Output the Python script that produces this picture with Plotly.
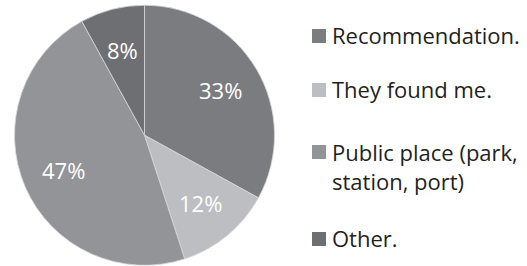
import math
import plotly.graph_objects as go

labels = ["Recommendation.", "They found me.", "Public place (park,<br>station, port)", "Other."]
values = [33, 12, 47, 8]
colors = ["#7b7c80", "#bdbec1", "#939497", "#6e6f73"]

W, H = 527, 266

# pie geometry (pixels)
PX0, PX1 = 14.5, 274.5
PY0, PY1 = 5.0, 265.5
CX, CY = (PX0 + PX1) / 2, (PY0 + PY1) / 2
R = (PX1 - PX0) / 2
LABEL_FRAC = 0.68

fig = go.Figure()
fig.add_trace(go.Pie(
    labels=labels,
    values=values,
    sort=False,
    direction="clockwise",
    rotation=0,
    marker=dict(colors=colors, line=dict(color="#d8d8da", width=0.8)),
    textinfo="none",
    domain=dict(x=[PX0 / W, PX1 / W], y=[1 - PY1 / H, 1 - PY0 / H]),
    showlegend=False,
    hoverinfo="skip",
))

annotations = []
shapes = []

# percentage labels placed at each slice's mid-angle
total = sum(values)
cum = 0
for v in values:
    mid = (cum + v / 2) / total * 2 * math.pi
    cum += v
    x = CX + LABEL_FRAC * R * math.sin(mid)
    y = CY - LABEL_FRAC * R * math.cos(mid)
    annotations.append(dict(x=x / W, y=1 - y / H, xref="paper", yref="paper",
                            text=f"{round(v / total * 100)}%", showarrow=False,
                            xanchor="center", yanchor="middle",
                            font=dict(size=22, color="white", family="Open Sans")))

# legend built from labels/colors
legend_y = [36, 90, 167, 239]  # pixel centers of entries (from top)
square_y = [36, 90, 152, 239]
for lab, col, ty, sy in zip(labels, colors, legend_y, square_y):
    shapes.append(dict(type="rect", xref="paper", yref="paper",
                       x0=312 / W, x1=326 / W, y0=1 - (sy + 7) / H, y1=1 - (sy - 7) / H,
                       fillcolor=col, line=dict(width=0)))
    annotations.append(dict(x=330 / W, y=1 - (ty - 1) / H, xref="paper", yref="paper",
                            text=lab, showarrow=False, xanchor="left", yanchor="middle",
                            align="left",
                            font=dict(size=22, color="#231f20", family="Open Sans")))

fig.update_layout(
    width=W, height=H,
    margin=dict(l=0, r=0, t=0, b=0),
    paper_bgcolor="white",
    plot_bgcolor="white",
    shapes=shapes,
    annotations=annotations,
)

fig.write_html("out.html", config={"displayModeBar": False},
               post_script="document.body.style.margin='0';")
